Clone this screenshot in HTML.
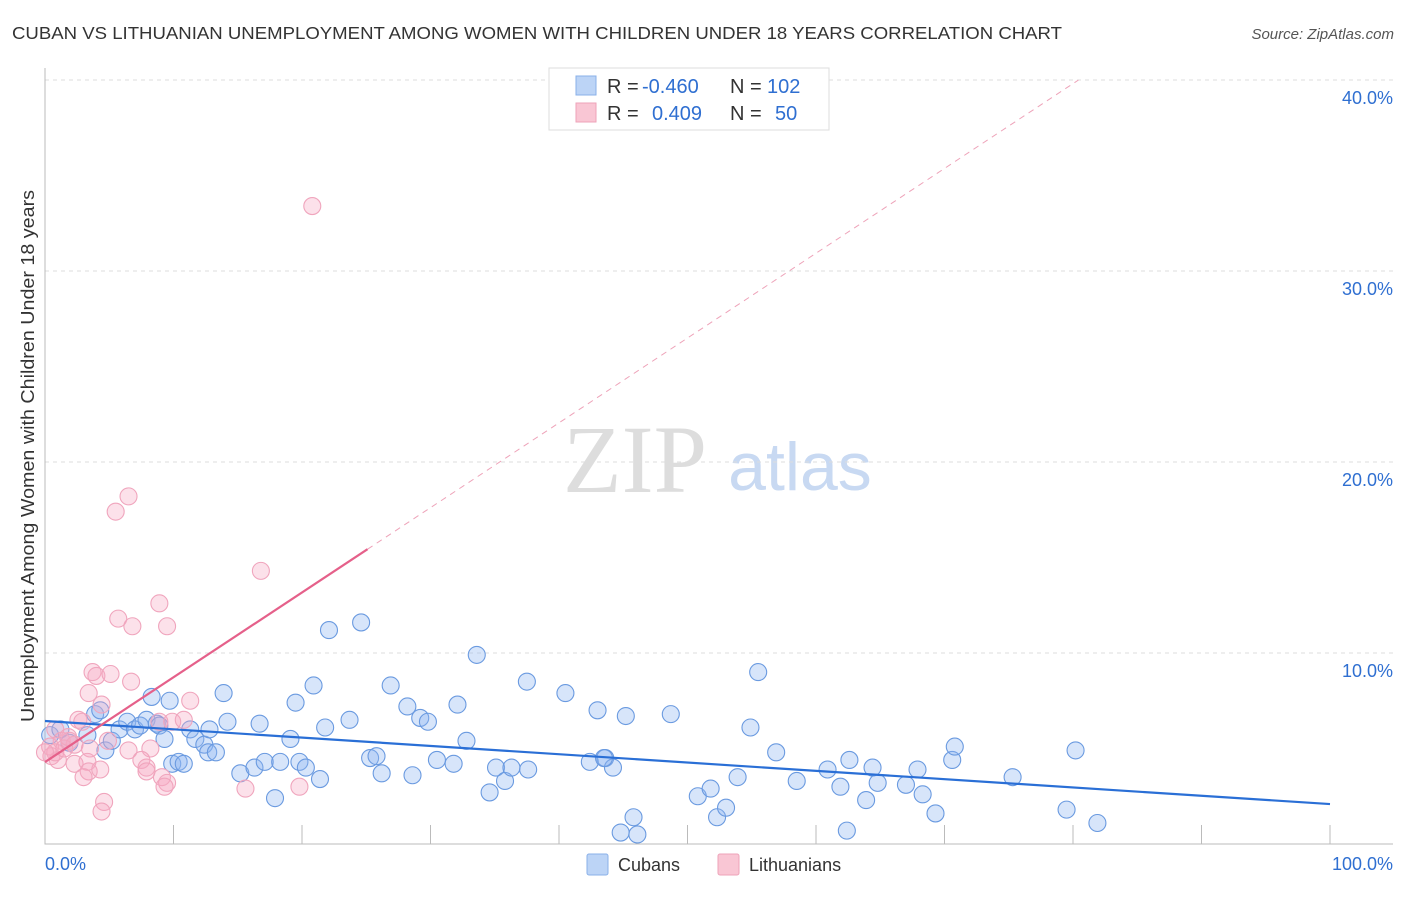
<!DOCTYPE html>
<html><head><meta charset="utf-8"><style>
body{margin:0;background:#fff;font-family:"Liberation Sans",sans-serif}
</style></head><body>
<svg width="1406" height="892" xmlns="http://www.w3.org/2000/svg">
<text x="12" y="39" font-size="17.5" fill="#333" textLength="1050" lengthAdjust="spacingAndGlyphs">CUBAN VS LITHUANIAN UNEMPLOYMENT AMONG WOMEN WITH CHILDREN UNDER 18 YEARS CORRELATION CHART</text>
<text x="1394" y="39" font-size="15" fill="#555" font-style="italic" text-anchor="end">Source: ZipAtlas.com</text>
<text x="635" y="492" font-size="96" fill="#ddd" font-family="Liberation Serif,serif" text-anchor="middle">ZIP</text>
<text x="800" y="490" font-size="68" fill="#c8d9f2" text-anchor="middle">atlas</text>
<g id="grid"></g>
<g id="axes"></g>
<g id="pts"></g>
<g id="trend"></g>
<text transform="translate(34,456) rotate(-90)" font-size="18" fill="#333" text-anchor="middle" textLength="532" lengthAdjust="spacingAndGlyphs">Unemployment Among Women with Children Under 18 years</text>
<g>
<rect x="549" y="68" width="280" height="62" fill="#fff" stroke="#ddd"/>
<rect x="576" y="76" width="20" height="19" fill="#bcd4f6" stroke="#8ab0e8"/>
<rect x="576" y="103" width="20" height="19" fill="#f9c6d4" stroke="#eea3b9"/>
<text x="607" y="93" font-size="20" fill="#333">R =</text>
<text x="642" y="93" font-size="20" fill="#2f6fd1">-0.460</text>
<text x="730" y="93" font-size="20" fill="#333">N =</text>
<text x="767" y="93" font-size="20" fill="#2f6fd1">102</text>
<text x="607" y="120" font-size="20" fill="#333">R =</text>
<text x="652" y="120" font-size="20" fill="#2f6fd1">0.409</text>
<text x="730" y="120" font-size="20" fill="#333">N =</text>
<text x="775" y="120" font-size="20" fill="#2f6fd1">50</text>
</g>
<g>
<rect x="587" y="854" width="21" height="21" fill="#bcd4f6" stroke="#8ab0e8" rx="2"/>
<text x="618" y="871" font-size="18" fill="#333">Cubans</text>
<rect x="718" y="854" width="21" height="21" fill="#f9c6d4" stroke="#eea3b9" rx="2"/>
<text x="749" y="871" font-size="18" fill="#333">Lithuanians</text>
</g>
</svg>
<script>
const yTicks=[10,20,30,40];
const yTickLabels=["10.0%","20.0%","30.0%","40.0%"];
const xTicks=[0,10,20,30,40,50,60,70,80,90,100];
const cubX=[0.4,1.2,1.9,3.3,3.9,4.3,4.7,5.2,5.8,6.4,7.0,7.4,7.9,8.3,8.7,8.9,9.3,9.7,9.9,10.4,10.8,11.3,11.7,12.4,12.7,12.8,13.3,13.9,14.2,15.2,16.3,16.7,17.1,17.9,18.3,19.1,19.5,19.8,20.3,20.9,21.4,21.8,22.1,23.7,24.6,25.3,25.8,26.2,26.9,28.2,28.6,29.2,29.8,30.5,31.8,32.1,32.8,33.6,34.6,35.1,35.8,36.3,37.6,37.5,40.5,42.4,43.0,43.6,44.2,43.5,45.2,44.8,45.8,46.1,48.7,50.8,51.8,52.3,53.0,53.9,54.9,55.5,56.9,58.5,60.9,61.9,62.6,62.4,63.9,64.4,64.8,67.0,67.9,68.3,69.3,70.6,70.8,75.3,79.5,80.2,81.9];
const cubY=[5.7,6.0,5.3,5.7,6.8,7.0,4.9,5.4,6.0,6.4,6.0,6.2,6.5,7.7,6.3,6.2,5.5,7.5,4.2,4.3,4.2,6.0,5.5,5.2,4.8,6.0,4.8,7.9,6.4,3.7,4.0,6.3,4.3,2.4,4.3,5.5,7.4,4.3,4.0,8.3,3.4,6.1,11.2,6.5,11.6,4.5,4.6,3.7,8.3,7.2,3.6,6.6,6.4,4.4,4.2,7.3,5.4,9.9,2.7,4.0,3.3,4.0,3.9,8.5,7.9,4.3,7.0,4.5,4.0,4.5,6.7,0.6,1.4,0.5,6.8,2.5,2.9,1.4,1.9,3.5,6.1,9.0,4.8,3.3,3.9,3.0,4.4,0.7,2.3,4.0,3.2,3.1,3.9,2.6,1.6,4.4,5.1,3.5,1.8,4.9,1.1];
const litX=[20.8,6.5,5.5,16.8,8.9,5.7,6.8,9.5,3.7,4.0,5.1,6.7,3.4,4.4,11.3,2.6,2.9,8.9,9.9,10.8,0.8,1.3,1.9,2.3,4.9,8.2,6.5,3.5,0.5,1.0,2.3,3.3,7.5,7.9,7.9,3.4,4.3,3.0,9.1,9.5,9.3,15.6,19.8,4.6,4.4,0.4,0.8,1.5,1.8,0.0];
const litY=[33.4,18.2,17.4,14.3,12.6,11.8,11.4,11.4,9.0,8.8,8.9,8.5,7.9,7.3,7.5,6.5,6.4,6.4,6.4,6.5,6.0,5.4,5.4,5.2,5.4,5.0,4.9,5.0,4.6,4.4,4.2,4.3,4.4,4.0,3.8,3.8,3.9,3.5,3.5,3.2,3.0,2.9,3.0,2.2,1.7,5.1,4.8,5.0,5.6,4.8];
const cubTrend=[6.44,2.09];
const litTrend=[4.29,0.444];
const X=v=>45+v*12.85, Y=v=>844-v*19.1;
const NS="http://www.w3.org/2000/svg";
function mk(parent,tag,attrs){const e=document.createElementNS(NS,tag);for(const k in attrs)e.setAttribute(k,attrs[k]);document.getElementById(parent).appendChild(e);return e;}
yTicks.forEach((t,i)=>{
 const l=mk('grid','line',{x1:45,x2:1393,y1:Y(t),y2:Y(t),stroke:'#ddd','stroke-dasharray':'4,4'});
 
 
 const tx=mk('grid','text',{x:1393,y:Y(t)+24,'font-size':18,fill:'#2f6fd1','text-anchor':'end'});
 tx.textContent=yTickLabels[i];
 
 
});
const ax=mk('axes','path',{d:`M45,68V${Y(0)}H1393`,stroke:'#bbb',fill:'none'});


xTicks.forEach(t=>{if(t===0)return;
 const l=mk('axes','line',{x1:X(t),x2:X(t),y1:Y(0)-19,y2:Y(0),stroke:'#bbb'});
 
 
});
[[0,'0.0%','start',45],[100,'100.0%','end',1393]].forEach(([v,s,a,px])=>{
 const t=mk('axes','text',{x:px,y:870,'font-size':18,fill:'#2f6fd1','text-anchor':a});t.textContent=s;
 
 
});
cubX.forEach((x,i)=>{
 const c=mk('pts','circle',{cx:X(x),cy:Y(cubY[i]),r:8.5,fill:'rgba(140,180,240,0.35)',stroke:'#6a9ae0','stroke-width':1.1});
 
 
});
litX.forEach((x,i)=>{
 const c=mk('pts','circle',{cx:X(x),cy:Y(litY[i]),r:8.5,fill:'rgba(245,170,195,0.35)',stroke:'#f0a5bd','stroke-width':1.1});
 
 
});
const bt=mk('trend','line',{x1:X(0),y1:Y(cubTrend[0]),x2:X(100),y2:Y(cubTrend[1]),stroke:'#2a6fd6','stroke-width':2.2});


const pe=25.1, pend=(40-litTrend[0])/litTrend[1];
const ps=mk('trend','line',{x1:X(0),y1:Y(litTrend[0]),x2:X(pe),y2:Y(litTrend[0]+litTrend[1]*pe),stroke:'#e5608a','stroke-width':2.2});


const pd=mk('trend','line',{x1:X(pe),y1:Y(litTrend[0]+litTrend[1]*pe),x2:X(pend),y2:Y(40),stroke:'#eea3b9','stroke-width':1,'stroke-dasharray':'6,5'});


</script>
</body></html>
